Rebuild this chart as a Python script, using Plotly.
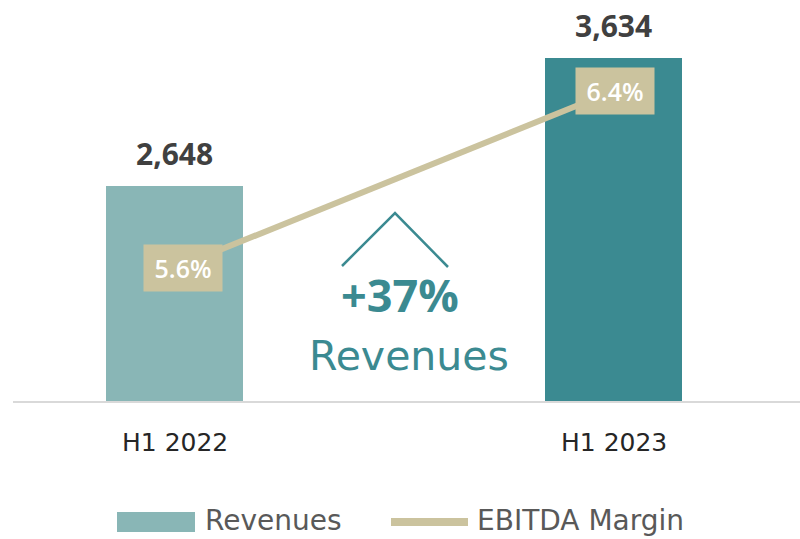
import plotly.graph_objects as go

categories = ["H1 2022", "H1 2023"]
revenues = [2648, 3634]
ebitda_margin = [5.6, 6.4]
revenue_labels = ["2,648", "3,634"]
margin_labels = ["5.6%", "6.4%"]
growth_label = "+37%"
growth_caption = "Revenues"

bar_colors = ["#89B6B6", "#3B8A91"]
line_color = "#CBC39E"
teal = "#3B8A91"
SANS = "Open Sans"
WIDE = "DejaVu Sans"

# plot area in pixels
L, T, R, B = 13, 0, 800, 401
def xp(px):
    return (px - L) / (R - L)
def yp(py):
    return (B - py) / (B - T)

fig = go.Figure()
fig.add_trace(go.Bar(
    x=[0, 1], y=revenues, marker=dict(color=bar_colors, line=dict(width=0)),
    width=0.312, name="Revenues", showlegend=False, hoverinfo="skip",
))
fig.add_trace(go.Scatter(
    x=[0, 1], y=ebitda_margin, yaxis="y2", mode="lines",
    line=dict(color=line_color, width=6), name="EBITDA Margin",
    showlegend=False, hoverinfo="skip",
))

annotations = []
for i, (v, lab) in enumerate(zip(revenues, revenue_labels)):
    annotations.append(dict(x=i, y=v, xref="x", yref="y", text=f"<b>{lab}</b>",
                            showarrow=False, yshift=32,
                            font=dict(family=SANS, size=30, color="#404040")))
shifts = [8, 1]
for i, (v, lab) in enumerate(zip(ebitda_margin, margin_labels)):
    annotations.append(dict(x=i, y=v, xref="x", yref="y2", text=lab,
                            showarrow=False, xshift=shifts[i], width=78, height=46,
                            bgcolor=line_color, borderpad=0,
                            font=dict(family=SANS, size=25, color="white", weight=600)))
for i, c in enumerate(categories):
    annotations.append(dict(x=i, y=yp(442), xref="x", yref="paper", text=c,
                            showarrow=False, yanchor="middle",
                            font=dict(family=WIDE, size=25, color="#262626")))
annotations.append(dict(x=xp(400), y=yp(294), xref="paper", yref="paper", text=f"<b>{growth_label}</b>",
                        showarrow=False, yanchor="middle",
                        font=dict(family=SANS, size=45, color=teal)))
annotations.append(dict(x=xp(409), y=yp(356), xref="paper", yref="paper", text=growth_caption,
                        showarrow=False, yanchor="middle",
                        font=dict(family=WIDE, size=41, color=teal)))

annotations.append(dict(x=xp(203), y=yp(520), xref="paper", yref="paper", text="Revenues",
                        showarrow=False, xanchor="left", yanchor="middle",
                        font=dict(family=WIDE, size=28, color="#595959")))
annotations.append(dict(x=xp(475), y=yp(520), xref="paper", yref="paper", text="EBITDA Margin",
                        showarrow=False, xanchor="left", yanchor="middle",
                        font=dict(family=WIDE, size=28, color="#595959")))

shapes = [
    dict(type="rect", xref="paper", yref="paper", x0=xp(117), x1=xp(195),
         y0=yp(532), y1=yp(512), fillcolor=bar_colors[0], line=dict(width=0)),
    dict(type="line", xref="paper", yref="paper", x0=xp(391), x1=xp(468),
         y0=yp(522), y1=yp(522), line=dict(color=line_color, width=8)),
    dict(type="path", xref="paper", yref="paper",
         path=f"M {xp(342)},{yp(266)} L {xp(395)},{yp(213)} L {xp(448)},{yp(267)}",
         line=dict(color=teal, width=2.5)),
]

fig.update_layout(
    width=800, height=539,
    margin=dict(l=L, r=800 - R, t=T, b=539 - B),
    paper_bgcolor="white", plot_bgcolor="white",
    xaxis=dict(range=[-0.369, 1.424], showticklabels=False, showgrid=False,
               zeroline=False, showline=True, linecolor="#D9D9D9", linewidth=2,
               fixedrange=True),
    yaxis=dict(range=[990, 4080], visible=False, showgrid=False, zeroline=False),
    yaxis2=dict(range=[5.0, 6.81], overlaying="y", visible=False, showgrid=False,
                zeroline=False),
    annotations=annotations, shapes=shapes, showlegend=False,
    bargap=0,
)

fig.write_html("out.html", config={"displayModeBar": False},
               post_script="document.body.style.margin='0';")
